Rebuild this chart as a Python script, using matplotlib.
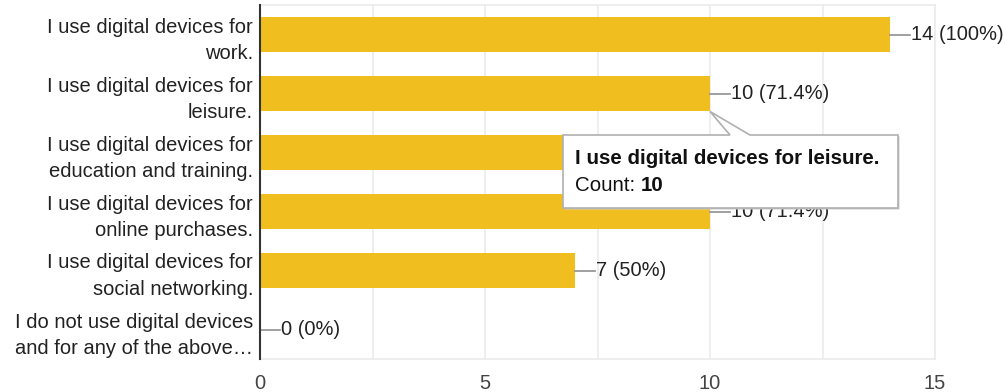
import matplotlib.pyplot as plt
from matplotlib.patches import Polygon

# datos
etiquetas = ["I use digital devices for\nwork.",
             "I use digital devices for\nleisure.",
             "I use digital devices for\neducation and training.",
             "I use digital devices for\nonline purchases.",
             "I use digital devices for\nsocial networking.",
             "I do not use digital devices\nand for any of the above\u2026"]
conteos = [14, 10, 10, 10, 7, 0]
porcentajes = ["100%", "71.4%", "71.4%", "71.4%", "50%", "0%"]
xticks = [0, 5, 10, 15]

plt.rcParams['font.family'] = ['Liberation Sans', 'DejaVu Sans']
W, H = 1005, 392
fig = plt.figure(figsize=(W/100, H/100), dpi=100)
ax = fig.add_axes([260/W, (H-359)/H, (935-260)/W, (359-5)/H])

color = '#f1be1f'
alto = 0.61
fs = 14.5
y = list(range(len(etiquetas)))
ax.barh(y, conteos, height=alto, color=color, zorder=2)

ax.set_xlim(0, 15)
ax.set_ylim(len(etiquetas)-0.5, -0.5)
ax.set_xticks(xticks)
ax.set_xticks([2.5, 7.5, 12.5], minor=True)
ax.grid(axis='x', which='both', color='#ebebeb', lw=1.2, zorder=0)
ax.set_yticks(y)
ax.set_yticklabels(etiquetas, fontsize=fs, color='#222222', linespacing=1.5)
ax.tick_params(axis='y', length=0, pad=5)
ax.tick_params(axis='x', which='both', length=0, pad=11, labelsize=fs, labelcolor='#444444')
for s in ['top', 'right', 'bottom']:
    ax.spines[s].set_color('#ebebeb')
    ax.spines[s].set_linewidth(1.2)
ax.spines['left'].set_color('#333333')
ax.spines['left'].set_linewidth(1.5)
ax.spines['left'].set_zorder(4)

# etiquetas de valor con linea guia
px = 15/675.0
for i, (c, p) in enumerate(zip(conteos, porcentajes)):
    ax.plot([c, c + 20*px], [i, i], color='#999999', lw=1.3, zorder=3, clip_on=False)
    ax.text(c + 21*px, i, f"{c} ({p})", va='center', ha='left', fontsize=fs, color='#222222', zorder=3)

# tooltip (en pixeles)
fig.canvas.draw()
tx, ty = ax.transData.transform((conteos[1], 1 + alto/2))
x0, x1 = 563, 898
ytop, ybot = H-135, H-208
puntos = [(x0, ytop), (tx+20, ytop), (tx, ty), (tx+40, ytop), (x1, ytop), (x1, ybot), (x0, ybot)]
sombra = Polygon([(a+1.5, b-1.5) for a, b in puntos], closed=True, transform=None,
                 facecolor='#cccccc', edgecolor='none', zorder=5)
caja = Polygon(puntos, closed=True, transform=None, facecolor='white',
               edgecolor='#b0b0b0', lw=1.2, zorder=6)
fig.add_artist(sombra)
fig.add_artist(caja)
fst = 14.8
fig.text(575/W, (H-159)/H, "I use digital devices for leisure.", fontsize=fst, fontweight='bold',
         color='#111111', va='center', ha='left', zorder=7)
t1 = fig.text(575/W, (H-185)/H, "Count: ", fontsize=fst, color='#111111', va='center', ha='left', zorder=7)
fig.canvas.draw()
bb = t1.get_window_extent()
fig.text(bb.x1/W, (H-185)/H, str(conteos[1]), fontsize=fst, fontweight='bold', color='#111111',
         va='center', ha='left', zorder=7)

fig.savefig('out.png', dpi=100)
